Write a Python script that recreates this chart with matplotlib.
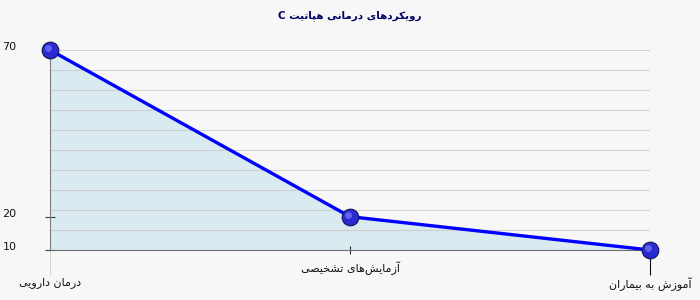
import re
import matplotlib
matplotlib.use("Agg")
import matplotlib.pyplot as plt
import matplotlib.transforms as mtransforms
from matplotlib.markers import TICKDOWN
import numpy as np

# داده‌ها
title = "رویکردهای درمانی هپاتیت C"
categories = ["درمان دارویی", "آزمایش\u200cهای تشخیصی", "آموزش به بیماران"]
values = [70, 20, 10]
ytick_values = [10, 20, 70]

# matplotlib does no arabic shaping -> presentation forms by hand
# (isolated, final[, initial, medial])
FORMS = {
    "\u0627": ("\uFE8D", "\uFE8E"),
    "\u0622": ("\uFE81", "\uFE82"),
    "\u062F": ("\uFEA9", "\uFEAA"),
    "\u0631": ("\uFEAD", "\uFEAE"),
    "\u0632": ("\uFEAF", "\uFEB0"),
    "\u0648": ("\uFEED", "\uFEEE"),
    "\u0628": ("\uFE8F", "\uFE90", "\uFE91", "\uFE92"),
    "\u067E": ("\uFB56", "\uFB57", "\uFB58", "\uFB59"),
    "\u062A": ("\uFE95", "\uFE96", "\uFE97", "\uFE98"),
    "\u062E": ("\uFEA5", "\uFEA6", "\uFEA7", "\uFEA8"),
    "\u0634": ("\uFEB5", "\uFEB6", "\uFEB7", "\uFEB8"),
    "\u0635": ("\uFEB9", "\uFEBA", "\uFEBB", "\uFEBC"),
    "\u0645": ("\uFEE1", "\uFEE2", "\uFEE3", "\uFEE4"),
    "\u0646": ("\uFEE5", "\uFEE6", "\uFEE7", "\uFEE8"),
    "\u0647": ("\uFEE9", "\uFEEA", "\uFEEB", "\uFEEC"),
    "\u0643": ("\uFED9", "\uFEDA", "\uFEDB", "\uFEDC"),
    "\u06A9": ("\uFB8E", "\uFB8F", "\uFB90", "\uFB91"),
    "\u064A": ("\uFEF1", "\uFEF2", "\uFEF3", "\uFEF4"),
    "\u06CC": ("\uFBFC", "\uFBFD", "\uFBFE", "\uFBFF"),
}


def shape(text):
    out = []
    for i, c in enumerate(text):
        if c not in FORMS:
            if c != "\u200c":
                out.append(c)
            continue
        prev = text[i - 1] if i > 0 else ""
        nxt = text[i + 1] if i + 1 < len(text) else ""
        f = FORMS[c]
        jp = prev in FORMS and len(FORMS[prev]) == 4
        jn = len(f) == 4 and nxt in FORMS
        if jp and jn:
            out.append(f[3])
        elif jp:
            out.append(f[1])
        elif jn:
            out.append(f[2])
        else:
            out.append(f[0])
    s = "".join(out)
    runs = re.findall(r"[A-Za-z0-9]+|[^A-Za-z0-9]+", s)
    vis = [r if re.match(r"[A-Za-z0-9]", r) else r[::-1] for r in runs]
    return "".join(vis[::-1])


plt.rcParams['font.family'] = ['DejaVu Sans']
plt.rcParams['font.size'] = 8

bg = '#f7f7f7'
fig = plt.figure(figsize=(7, 3), dpi=100, facecolor=bg)
ax = fig.add_axes([50 / 700, 50 / 300, 600 / 700, 200 / 300], facecolor=bg)

x = np.arange(len(categories))
ax.fill_between(x, values, 10, color='#d9eaf0', lw=0, zorder=1)
ax.plot(x, values, color='#0000ff', lw=2.4, zorder=3, clip_on=False)
ax.plot(x, values, 'o', ms=12, mfc='#2a2ad0', mec='#15155a', mew=0.8,
        zorder=4, clip_on=False)
hl = mtransforms.offset_copy(ax.transData, fig=fig, x=-2, y=2, units='dots')
ax.plot(x, values, 'o', ms=5, mfc='#6f6ff5', mew=0, alpha=0.8,
        transform=hl, zorder=5, clip_on=False)

ax.set_xlim(0, 2)
ax.set_ylim(10, 70)

# grid every 6 units
ax.yaxis.remove_overlapping_locs = False
ax.set_yticks(np.arange(10, 71, 6), minor=True)
ax.grid(True, which='minor', axis='y', color='#c9c9c9', lw=0.8, alpha=0.8)
ax.set_axisbelow('line')
ax.tick_params(axis='y', which='minor', length=0)

ax.set_yticks(ytick_values)
ax.set_yticklabels([str(v) for v in ytick_values])
ax.tick_params(axis='y', which='major', direction='inout', length=7.5,
               color='#404040', pad=30.5, labelcolor='#111111')
for lbl in ax.get_yticklabels():
    lbl.set_ha('left')
    lbl.set_va('baseline')

for side in ('top', 'right'):
    ax.spines[side].set_visible(False)
ax.spines['left'].set_color('#7a7a7a')
ax.spines['bottom'].set_color('#6e6e6e')

ax.set_xticks(x)
ax.set_xticklabels([shape(c) for c in categories])
ax.tick_params(axis='x', length=0, labelcolor='#111111')
pads = [19.5, 8.5, 19.5]
tick_len = [18, 5.8, 18]
tick_col = ['#d6d6d6', '#303030', '#111111']
for i, tk in enumerate(ax.xaxis.get_major_ticks()):
    tk.set_pad(pads[i])
    tk.tick1line.set_marker('|' if i == 1 else TICKDOWN)
    tk.tick1line.set_markersize(tick_len[i])
    tk.tick1line.set_color(tick_col[i])
    tk.tick1line.set_markeredgecolor(tick_col[i])

fig.text(350 / 700, 1 - 16 / 300, shape(title), ha='center', va='center',
         color='#000066', fontweight='bold', fontsize=7.5)

fig.savefig('out.png', dpi=100, facecolor=bg)
